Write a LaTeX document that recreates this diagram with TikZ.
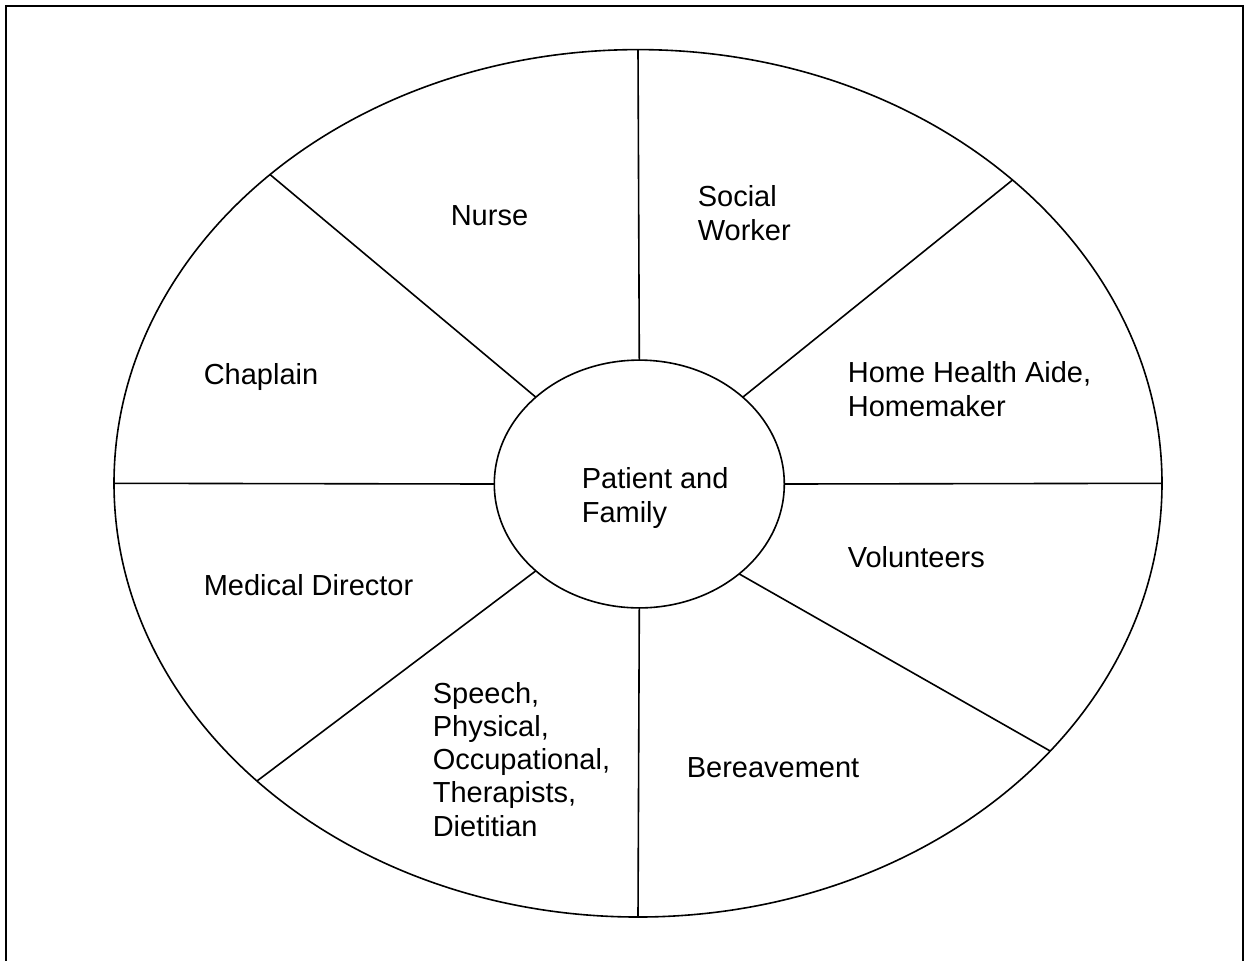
\documentclass[tikz,border=0pt]{standalone}
\usepackage{fontspec}
\setmainfont{Liberation Sans}
\usepackage{tikz}
\usetikzlibrary{shapes.geometric}

\begin{document}
\begin{tikzpicture}[x=0.5pt, y=-0.5pt, line width=0.8pt,
		ring/.style={draw, ellipse, inner sep=0pt, outer sep=0pt},
		lbl/.style={anchor=base west, align=left, inner sep=0pt,
			font=\fontsize{14.5}{16.6}\selectfont}]

	\useasboundingbox (0,0) rectangle (1247,960);

	% frame, open at the bottom
	\draw[line width=1pt] (6,962) -- (6,6) -- (1243,6) -- (1243,962);

	\node[ring, minimum width=524pt, minimum height=433.7pt] (rim) at (638,483.3) {};
	\node[ring, minimum width=145pt, minimum height=123.9pt] (hub) at (639.3,484) {};

	% spokes
	\draw (hub.north) -- (rim.north);
	\draw (hub.40) -- (rim.39);
	\draw (hub.east) -- (rim.east);
	\draw (hub.318.8) -- (rim.327.9);
	\draw (hub.south) -- (rim.south);
	\draw (hub.220.7) -- (rim.218.6);
	\draw (hub.west) -- (rim.west);
	\draw (hub.140.2) -- (rim.140.9);

	% labels sit on the baseline of their last line
	\node[lbl] (family) at (581,522) {Patient and\\Family};
	\node[lbl] (nurse) at (450,225) {Nurse};
	\node[lbl] (social) at (697,240) {Social\\Worker};
	\node[lbl] (aide) at (847,416) {Home Health Aide,\\Homemaker};
	\node[lbl] (volunteers) at (847,567) {Volunteers};
	\node[lbl] (bereavement) at (686,777) {Bereavement};
	\node[lbl] (therapists) at (432,836) {Speech,\\Physical,\\Occupational,\\Therapists,\\Dietitian};
	\node[lbl] (director) at (203,595) {Medical Director};
	\node[lbl] (chaplain) at (203,384) {Chaplain};

\end{tikzpicture}
\end{document}
